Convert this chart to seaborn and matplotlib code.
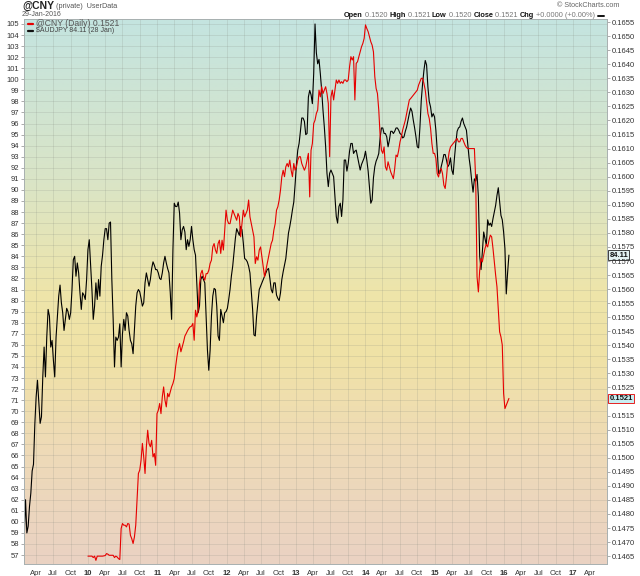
import numpy as np
import pandas as pd
import seaborn as sns
import matplotlib.pyplot as plt
from matplotlib.lines import Line2D
from matplotlib.colors import LinearSegmentedColormap

sns.set_style("white")
plt.rcParams['font.family'] = ['Liberation Sans', 'DejaVu Sans']

# %% Data (weekly closes)

last_date = '2016-01-28'

audjpy = [
    58.4, 62.0, 59.0, 59.6, 61.4, 62.6, 64.6, 65.2, 68.8, 71.3,
    72.8, 70.9, 68.9, 69.5, 73.1, 75.8, 73.1, 76.7, 79.2, 78.6,
    75.8, 76.4, 74.6, 73.1, 76.7, 78.6, 80.4, 81.4, 79.8, 78.9,
    77.3, 78.3, 79.3, 79.0, 78.3, 78.9, 81.0, 83.7, 84.0, 82.2,
    83.4, 82.5, 80.7, 79.2, 80.7, 80.5, 80.1, 81.9, 84.6, 85.5,
    83.2, 81.0, 78.3, 79.5, 81.6, 80.1, 81.9, 80.4, 83.1, 84.1,
    85.5, 86.5, 86.5, 85.5, 87.0, 87.1, 81.9, 78.3, 74.0, 76.7,
    76.4, 76.7, 77.9, 74.0, 77.0, 78.3, 77.3, 78.9, 78.6, 77.3,
    76.4, 76.1, 75.2, 77.3, 79.5, 80.7, 81.0, 80.8, 80.2, 79.5,
    79.8, 81.6, 82.5, 81.9, 81.3, 81.9, 82.9, 83.5, 83.2, 82.8,
    82.8, 82.5, 82.0, 81.9, 82.5, 83.4, 84.0, 83.4, 82.9, 82.5,
    # 2011 - 2013
    80.7, 78.3, 84.6, 88.8, 88.5, 88.5, 88.9, 87.9, 85.5, 86.4,
    86.7, 86.2, 84.6, 85.5, 84.9, 85.5, 86.7, 85.5, 84.6, 84.1,
    81.6, 78.9, 79.5, 81.9, 82.2, 81.9, 81.6, 78.6, 75.5, 73.7,
    75.5, 78.6, 80.4, 81.1, 81.0, 79.5, 76.8, 76.4, 79.2, 78.6,
    78.0, 78.9, 79.0, 79.3, 80.1, 81.0, 82.2, 83.1, 84.3, 85.6,
    86.5, 86.2, 85.9, 86.7, 86.4, 85.2, 83.8, 83.7, 83.5, 83.1,
    82.5, 80.8, 79.2, 76.9, 76.8, 78.6, 79.8, 81.0, 81.3, 81.6,
    81.9, 82.2, 82.5, 82.8, 82.9, 82.0, 81.0, 80.7, 81.6, 81.6,
    80.5, 80.2, 80.0, 80.7, 81.9, 82.6, 83.2, 83.8, 85.0, 86.1,
    86.7, 87.4, 88.2, 88.9, 90.5, 92.3, 93.6, 94.2, 95.3, 96.5,
    96.5, 96.2, 95.0, 95.1, 98.4, 99.0, 98.6, 97.8, 100.5, 105.0,
    102.4, 101.4,
    # 2013 - 2015
    101.8, 100.5, 99.0, 97.2, 95.7, 93.9, 91.5, 90.3, 91.5, 91.8,
    91.5, 91.2, 89.4, 87.6, 87.0, 88.5, 88.8, 87.6, 89.1, 92.7,
    92.7, 91.7, 92.4, 93.5, 94.2, 94.2, 93.3, 93.5, 93.6, 93.0,
    92.4, 91.8, 92.3, 92.6, 92.9, 93.5, 92.7, 91.7, 90.3, 88.8,
    89.1, 91.1, 92.1, 92.6, 92.9, 93.3, 94.7, 95.6, 95.6, 95.1,
    95.1, 94.8, 93.9, 94.5, 95.3, 95.3, 95.1, 95.3, 95.6, 95.6,
    95.4, 95.1, 95.0, 94.7, 94.8, 95.3, 95.7, 96.3, 96.9, 97.4,
    97.1, 96.3, 95.6, 94.8, 93.9, 93.8, 95.7, 98.1, 99.6, 100.8,
    101.7, 101.3, 99.3, 98.0, 97.5, 96.6, 96.9, 96.6, 95.4, 93.6,
    91.5, 91.5, 92.1, 92.6, 93.2, 93.2, 92.7, 92.1, 92.3, 92.9,
    91.8, 91.4, 92.9, 94.2, 95.3, 95.6, 95.7, 96.2, 96.5, 96.0,
    95.7,
    # 2015 - 2016
    95.4, 94.1, 92.9, 92.0, 90.8, 89.8, 91.0, 90.8, 91.4, 89.4,
    84.0, 82.8, 84.4, 86.2, 85.6, 85.0, 87.3, 86.8, 87.0, 86.7,
    87.4, 88.0, 88.6, 89.5, 90.2, 88.9, 87.7, 87.3, 86.2, 84.7,
    80.6, 82.5, 84.11,
]

cny = [
    0.14650, 0.14650, 0.14650, 0.14650, 0.14645, 0.14650, 0.14635, 0.14650,
    0.14650, 0.14650, 0.14650, 0.14650, 0.14651, 0.14652, 0.14659, 0.14657,
    0.14653, 0.14653, 0.14653, 0.14653, 0.14645, 0.14650, 0.14647, 0.14641,
    0.14638,
    0.14748, 0.14766, 0.14760, 0.14760, 0.14754, 0.14766, 0.14764, 0.14724,
    0.14712, 0.14695, 0.14718, 0.14760, 0.14849, 0.14944, 0.14956, 0.14991,
    0.15051, 0.15003, 0.14944, 0.15039, 0.15098, 0.15051, 0.15039, 0.15062,
    0.15003, 0.15015, 0.14973, 0.15157, 0.15169, 0.15193, 0.15157, 0.15217,
    0.15252, 0.15205, 0.15181, 0.15229, 0.15217,
    # 2011 - 2013
    0.15234, 0.15252, 0.15264, 0.15282, 0.15323, 0.15359, 0.15389, 0.15406, 0.15377, 0.15394,
    0.15412, 0.15433, 0.15442, 0.15452, 0.15460, 0.15466, 0.15468, 0.15478, 0.15418, 0.15525,
    0.15501, 0.15525, 0.15620, 0.15655, 0.15667, 0.15644, 0.15632, 0.15655, 0.15655, 0.15667,
    0.15691, 0.15703, 0.15750, 0.15762, 0.15739, 0.15727, 0.15762, 0.15774, 0.15727, 0.15774,
    0.15739, 0.15810, 0.15881, 0.15845, 0.15833, 0.15833, 0.15857, 0.15881, 0.15869, 0.15857,
    0.15845, 0.15869, 0.15857, 0.15786, 0.15833, 0.15881, 0.15857, 0.15869, 0.15881, 0.15917,
    0.15857, 0.15833, 0.15810, 0.15786, 0.15691, 0.15715, 0.15703, 0.15739, 0.15750, 0.15715,
    0.15679, 0.15644, 0.15667, 0.15691, 0.15715, 0.15739, 0.15762, 0.15774, 0.15810, 0.15833,
    0.15881, 0.15893, 0.15917, 0.15952, 0.16000, 0.16023, 0.16000, 0.16035, 0.16047, 0.16035,
    0.16059, 0.16023, 0.16000, 0.16047, 0.16023, 0.16035, 0.16059, 0.16071, 0.16071, 0.16047,
    0.16035, 0.16023, 0.16035, 0.16059, 0.16083, 0.15928, 0.16094, 0.16118, 0.16189, 0.16201,
    0.16225, 0.16237,
    # 2013 - 2015
    0.16308, 0.16284, 0.16320, 0.16296, 0.16308, 0.16320, 0.16296, 0.16261, 0.16071, 0.16284,
    0.16308, 0.16273, 0.16308, 0.16344, 0.16332, 0.16344, 0.16332, 0.16338, 0.16332, 0.16344,
    0.16344, 0.16338, 0.16344, 0.16391, 0.16427, 0.16415, 0.16427, 0.16273, 0.16403, 0.16409,
    0.16427, 0.16444, 0.16462, 0.16474, 0.16492, 0.16540, 0.16527, 0.16516, 0.16498, 0.16480,
    0.16468, 0.16444, 0.16356, 0.16314, 0.16296, 0.16237, 0.16148, 0.16094, 0.16083, 0.16106,
    0.16035, 0.16023, 0.16053, 0.16035, 0.16017, 0.16005, 0.15993, 0.16029, 0.16077, 0.16071,
    0.16094, 0.16124, 0.16142, 0.16166, 0.16183, 0.16201, 0.16225, 0.16249, 0.16273, 0.16278,
    0.16284, 0.16290, 0.16296, 0.16302, 0.16308, 0.16326, 0.16338, 0.16350, 0.16350, 0.16332,
    0.16308, 0.16267, 0.16225, 0.16207, 0.16172, 0.16118, 0.16083, 0.16083, 0.16065, 0.16011,
    0.15999, 0.16023, 0.16029, 0.16011, 0.15970, 0.15958, 0.15999, 0.16053, 0.16088, 0.16106,
    0.16112, 0.16118, 0.16124, 0.16130, 0.16136, 0.16124, 0.16124, 0.16136, 0.16136, 0.16124,
    0.16112,
    # 2015 - 2016
    0.16104, 0.16100, 0.16100, 0.16100, 0.16100, 0.16100, 0.16100, 0.15988, 0.15644, 0.15590,
    0.15667, 0.15709, 0.15697, 0.15721, 0.15745, 0.15760, 0.15750, 0.15774, 0.15792, 0.15786,
    0.15745, 0.15697, 0.15650, 0.15608, 0.15525, 0.15448, 0.15430, 0.15401, 0.15229, 0.15175,
    0.15187, 0.15199, 0.15211,
]

left_ticks = list(range(57, 106))
right_ticks = [v / 10000 for v in range(1465, 1656, 5)]
quarter_starts = pd.date_range('2009-04-01', '2017-04-01', freq='QS-JAN')

aud = pd.DataFrame({
    'Date': pd.date_range(end=last_date, periods=len(audjpy), freq='7D'),
    'AUDJPY': audjpy,
})
yuan = pd.DataFrame({
    'Date': pd.date_range(end=last_date, periods=len(cny), freq='7D'),
    'CNY': cny,
})

# %% Figure

W, H = 640, 576
fig = plt.figure(figsize=(W / 100, H / 100), dpi=100)
rect = [24 / W, 1 - 564 / H, (607 - 24) / W, (564 - 19) / H]

bg = fig.add_axes(rect, zorder=0)
cmap = LinearSegmentedColormap.from_list('bg', [
    (0.0, '#c4e4e0'), (0.3, '#dae4c6'), (0.5, '#eee5aa'),
    (0.62, '#f0e2a6'), (0.8, '#eedab8'), (1.0, '#ead2c3'),
])
bg.imshow(np.linspace(0, 1, 256).reshape(-1, 1), aspect='auto', cmap=cmap,
          extent=[0, 1, 0, 1])
bg.axis('off')

ax = fig.add_axes(rect, zorder=1)
ax.patch.set_alpha(0)
sns.lineplot(data=aud, x='Date', y='AUDJPY', ax=ax, color='black',
             lw=0.8, estimator=None)

ax2 = ax.twinx()
sns.lineplot(data=yuan, x='Date', y='CNY', ax=ax2, color='#e60000',
             lw=0.8, estimator=None)

ax.set_xlim(pd.Timestamp('2009-01-28'), pd.Timestamp('2017-06-28'))
ax.set_ylim(56.19, 105.45)
ax2.set_ylim(0.14622, 0.16561)

ax.set_yticks(left_ticks)
ax.set_yticklabels([str(v) for v in left_ticks])
ax2.set_yticks(right_ticks)
# the 0.1520 label sits under the last-value flag, as in the original
ax2.set_yticklabels(['' if abs(v - 0.1520) < 1e-6 else f'{v:.4f}' for v in right_ticks])
ax.set_xticks(quarter_starts)
ax.set_xticklabels([d.strftime('%y') if d.month == 1 else d.strftime('%b')
                    for d in quarter_starts])
for lab, d in zip(ax.get_xticklabels(), quarter_starts):
    if d.month == 1:
        lab.set_fontweight('bold')

for a in (ax, ax2):
    a.set_xlabel('')
    a.set_ylabel('')
    a.tick_params(labelsize=5.5, length=2.5, width=0.5, pad=1,
                  colors='#8a8a8a', labelcolor='#333333')
    for s in a.spines.values():
        s.set_color('#a8b0b0')
        s.set_linewidth(0.6)
ax.tick_params(axis='x', pad=2)
ax.grid(True, color='#7d8278', alpha=0.2, lw=0.6)

# last value flags on the right axis
ax.text(1.004, 84.11, '84.11', transform=ax.get_yaxis_transform(),
        ha='left', va='center', fontsize=5.5, fontweight='bold', color='#111',
        clip_on=False, zorder=5,
        bbox=dict(boxstyle='square,pad=0.15', fc='#e4f2f2', ec='#222', lw=0.6))
ax2.text(1.004, 0.1521, '0.1521', transform=ax2.get_yaxis_transform(),
         ha='left', va='center', fontsize=5.5, fontweight='bold', color='#111',
         clip_on=False, zorder=5,
         bbox=dict(boxstyle='square,pad=0.15', fc='#c9eef2', ec='#e60000', lw=0.6))

# %% Header


def px(x, y):
    return x / W, 1 - y / H


fig.text(*px(22, 6), '@CNY', fontsize=7.5, fontweight='bold', va='center', color='#222')
fig.text(*px(56, 6), '(private)  UserData', fontsize=5.2, va='center', color='#555')
fig.text(*px(22, 14.5), '29-Jan-2016', fontsize=5, va='center', color='#555')
fig.text(*px(619, 5.5), '© StockCharts.com', fontsize=5.2, va='center', ha='right', color='#666')

parts = [('Open', True), (' 0.1520 ', False), ('High', True), (' 0.1521 ', False),
         ('Low', True), (' 0.1520 ', False), ('Close', True), (' 0.1521 ', False),
         ('Chg', True), (' +0.0000 (+0.00%)', False)]
txt, bold = parts[-1]
prev = fig.text(*px(595, 15.5), txt, fontsize=5.3, ha='right', va='center', color='#777')
for txt, bold in reversed(parts[:-1]):
    prev = ax2.annotate(txt, xy=(0, 0), xycoords=prev, va='bottom', ha='right',
                        fontsize=5.3, fontweight='bold' if bold else 'normal',
                        color='#111' if bold else '#777', annotation_clip=False)
fig.add_artist(Line2D([598 / W, 604 / W], [1 - 15.5 / H] * 2, color='#111', lw=1.4))

# in-chart legend
fig.add_artist(Line2D([28 / W, 33 / W], [1 - 24 / H] * 2, color='#e60000', lw=1.6))
fig.text(*px(36, 24), '@CNY (Daily) 0.1521', fontsize=6.2, va='center', color='#555')
fig.add_artist(Line2D([28 / W, 33 / W], [1 - 31 / H] * 2, color='#111', lw=1.6))
fig.text(*px(36, 31), '$AUDJPY 84.11 (28 Jan)', fontsize=5, va='center', color='#444')

plt.savefig('out.png', dpi=100)
